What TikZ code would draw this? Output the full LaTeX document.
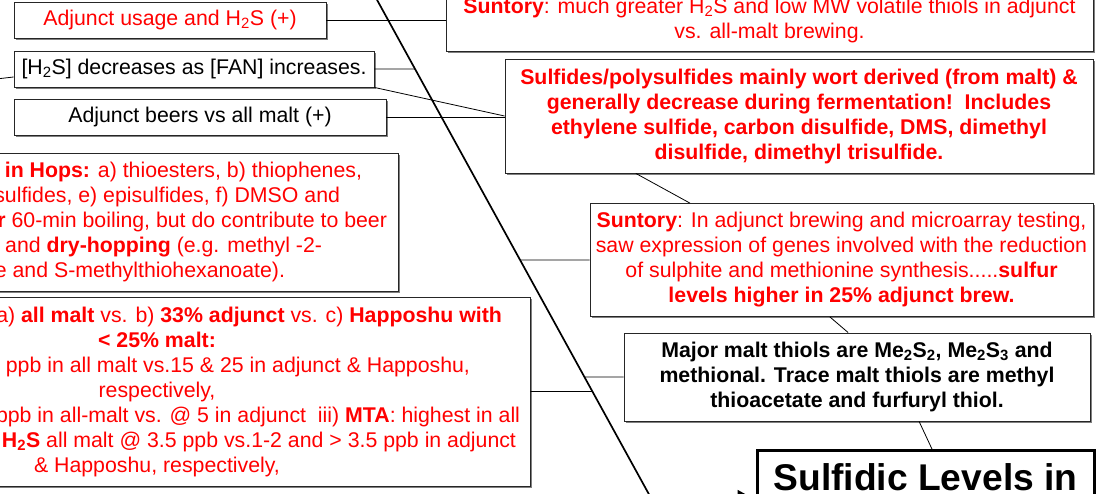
\documentclass[tikz,border=0pt]{standalone}
\usepackage{fontspec}
\setmainfont{Liberation Sans}
\usetikzlibrary{arrows.meta,shadows,calc}
\definecolor{txtred}{RGB}{255,0,0}
\newcommand\bodyfont{\fontsize{21.3}{25}\selectfont}
\newcommand\titlefont{\fontsize{37.2}{42}\selectfont\bfseries}
\newcommand\sub[1]{\textsubscript{#1}}
\tikzset{
  box/.style={draw=black!85, line width=0.9pt, fill=white, inner sep=0pt,
    align=center, font=\bodyfont,
    drop shadow={shadow xshift=1.6pt, shadow yshift=-1.6pt, fill=black!50, opacity=1}},
  redtext/.style={text=txtred},
  conn/.style={draw=black, line width=0.8pt},
  diag/.style={draw=black, line width=1.7pt},
  titlebox/.style={draw=black, line width=3pt, fill=white, inner xsep=0pt,
    font=\titlefont, align=center},
}
\begin{document}
\begin{tikzpicture}[x=1pt, y=-1pt]
\useasboundingbox (0,0) rectangle (1101,493);
\clip (0,0) rectangle (1101,493);

% left column
\node[box, redtext, minimum width=312pt, minimum height=36pt] (b1) at (170,20)
  {Adjunct usage and H\sub{2}S (+)};
\node[box, minimum width=360pt, minimum height=36pt] (b2) at (194,69)
  {[H\sub{2}S] decreases as [FAN] increases.};
\node[box, minimum width=372pt, minimum height=36pt] (b3) at (200,117)
  {Adjunct beers vs all malt (+)};

\node[box, redtext, minimum width=628pt, minimum height=138pt] (hops) at (84,222)
  {\makebox[556pt][r]{\textbf{l in Hops:} a) thioesters, b) thiophenes,}\\
   \makebox[512pt][r]{sulfides, e) episulfides, f) DMSO and}\\
   \makebox[606pt][r]{\textbf{r} 60-min boiling, but do contribute to beer}\\
   \makebox[476pt][r]{, and \textbf{dry-hopping} (e.g. methyl -2-}\\
   \makebox[402pt][r]{e and S-methylthiohexanoate).}};

\node[box, redtext, minimum width=746pt, minimum height=189pt] (malt) at (157,391.5)
  {\makebox[690pt][r]{a) \textbf{all malt} vs. b) \textbf{33\% adjunct} vs. c) \textbf{Happoshu with}}\\
   \textbf{< 25\% malt:}\\
   \makebox[626pt][r]{ppb in all malt vs.15 \& 25 in adjunct \& Happoshu,}\\
   respectively,\\
   \makebox[726pt][r]{ppb in all-malt vs. @ 5 in adjunct\ \ iii) \textbf{MTA}: highest in all}\\
   \makebox[718pt][r]{\textbf{H\sub{2}S} all malt @ 3.5 ppb vs.1-2 and > 3.5 ppb in adjunct}\\
   \& Happoshu, respectively,};

% right column
\node[box, redtext, minimum width=647pt, minimum height=62pt] (suntop) at (769.5,20)
  {\textbf{Suntory}: much greater H\sub{2}S and low MW volatile thiols in adjunct\\
   vs. all-malt brewing.};
\node[box, redtext, font=\bodyfont\bfseries, minimum width=588pt, minimum height=114pt] (sulf) at (799,116)
  {Sulfides/polysulfides mainly wort derived (from malt) \&\\
   generally decrease during fermentation!\ \ Includes\\
   ethylene sulfide, carbon disulfide, DMS, dimethyl\\
   disulfide, dimethyl trisulfide.};
\node[box, redtext, minimum width=503pt, minimum height=113pt] (sun2) at (841.5,260)
  {\textbf{Suntory}: In adjunct brewing and microarray testing,\\
   saw expression of genes involved with the reduction\\
   of sulphite and methionine synthesis.....\textbf{sulfur}\\
   \textbf{levels higher in 25\% adjunct brew.}};
\node[box, font=\bodyfont\bfseries, minimum width=466pt, minimum height=88pt] (major) at (857,377)
  {Major malt thiols are Me\sub{2}S\sub{2}, Me\sub{2}S\sub{3} and\\
   methional. Trace malt thiols are methyl\\
   thioacetate and furfuryl thiol.};
\node[titlebox, anchor=north, minimum width=337pt, text height=27pt, text depth=64pt,
  inner ysep=13pt] (title) at (925.5,449) {Sulfidic Levels in};

% spine and diagonal bone
\coordinate (dtop) at (365,-22);
\coordinate (dbot) at (651,498);
\coordinate (spinestart) at (-20,498);
\coordinate (offleft) at (-30,82);
\draw[diag] (dtop) -- (dbot);
\draw[line width=1.7pt, -{Triangle[length=15pt,width=16pt]}, shorten >=3pt]
  (spinestart) -- (spinestart -| title.west);

% connectors
\draw[conn] (b1.east) -- (b1.east -| suntop.west);
\draw[conn] (b2.east) -- (intersection cs:first line={(dtop)--(dbot)}, second line={(b2.east)--(b2.west)});
\draw[conn] (offleft) -- ([yshift=-8pt]b2.west);
\draw[conn] (b2.south east) -- (sulf.west);
\draw[conn] (b3.east) -- (b3.east -| sulf.west);
\draw[conn] ($(sulf.south west)!0.223!(sulf.south east)$) -- ($(sun2.north west)!0.199!(sun2.north east)$);
\draw[conn] (sun2.west) -- (intersection cs:first line={(dtop)--(dbot)}, second line={(sun2.west)--(sun2.east)});
\draw[conn] (malt.east) -- (intersection cs:first line={(dtop)--(dbot)}, second line={(malt.west)--(malt.east)});
\draw[conn] (major.west) -- (intersection cs:first line={(dtop)--(dbot)}, second line={(major.west)--(major.east)});
\draw[conn] ($(sun2.south west)!0.477!(sun2.south east)$) -- ($(major.north west)!0.481!(major.north east)$);
\draw[conn] ($(major.south west)!0.633!(major.south east)$) -- ($(title.north west)!0.519!(title.north east)$);
\end{tikzpicture}
\end{document}
